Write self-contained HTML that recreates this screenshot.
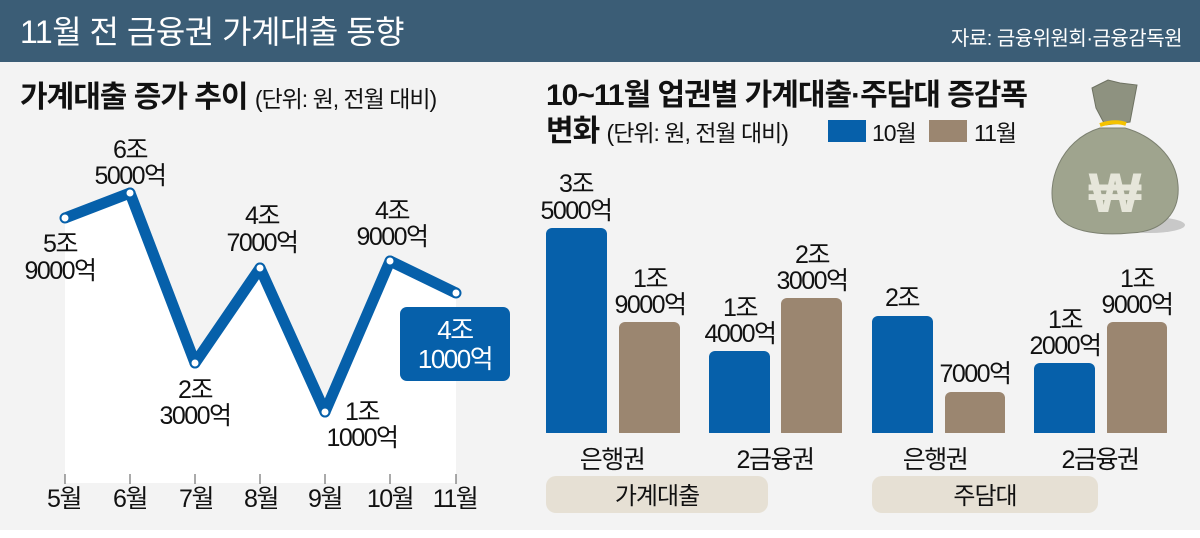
<!DOCTYPE html>
<html><head><meta charset="utf-8"><style>
body{margin:0;width:1200px;height:533px;overflow:hidden;background:#fff;font-family:"Liberation Sans","Noto Sans CJK KR",sans-serif}
svg text{font-family:"Liberation Sans","Noto Sans CJK KR",sans-serif}
</style></head><body>
<svg width="1200" height="533" viewBox="0 0 1200 533">
<rect x="0" y="0" width="1200" height="530" fill="#f3f3f3"/>
<rect x="0" y="0" width="1200" height="62" fill="#3b5d76"/>
<text x="20" y="43" font-size="32" fill="#fff" letter-spacing="-0.5">11월 전 금융권 가계대출 동향</text>
<text x="1182" y="45" font-size="20" fill="#fff" text-anchor="end" letter-spacing="-0.5">자료: 금융위원회·금융감독원</text>

<text x="20" y="107" font-size="30" font-weight="bold" fill="#111" letter-spacing="-1">가계대출 증가 추이 <tspan font-size="23" font-weight="normal">(단위: 원, 전월 대비)</tspan></text>

<polygon points="65,218 130,193 195,363 260,268 325,412 390,261 456,293 456,483 65,483" fill="#fff"/>
<g stroke="#555" stroke-width="1">
<line x1="65" y1="474" x2="65" y2="484"/><line x1="130" y1="474" x2="130" y2="484"/><line x1="195" y1="474" x2="195" y2="484"/><line x1="260" y1="474" x2="260" y2="484"/><line x1="325" y1="474" x2="325" y2="484"/><line x1="390" y1="474" x2="390" y2="484"/><line x1="456" y1="474" x2="456" y2="484"/>
</g>
<polyline points="65,218 130,193 195,363 260,268 325,412 390,261 456,293" fill="none" stroke="#0660aa" stroke-width="11" stroke-linejoin="round"/>
<g fill="#fff" stroke="#0660aa" stroke-width="2">
<circle cx="65" cy="218" r="4.5"/><circle cx="130" cy="193" r="4.5"/><circle cx="195" cy="363" r="4.5"/><circle cx="260" cy="268" r="4.5"/><circle cx="325" cy="412" r="4.5"/><circle cx="390" cy="261" r="4.5"/><circle cx="456" cy="293" r="4.5"/>
</g>
<g font-size="25" fill="#111" text-anchor="middle" letter-spacing="-1.5">
<text x="60" y="252">5조</text><text x="60" y="279">9000억</text>
<text x="130" y="158">6조</text><text x="130" y="184">5000억</text>
<text x="195" y="398">2조</text><text x="195" y="424">3000억</text>
<text x="262" y="224">4조</text><text x="262" y="251">7000억</text>
<text x="362" y="420">1조</text><text x="362" y="446">1000억</text>
<text x="392" y="219">4조</text><text x="392" y="245">9000억</text>
<text x="64" y="507">5월</text><text x="130" y="507">6월</text><text x="196" y="507">7월</text><text x="261" y="507">8월</text><text x="325" y="507">9월</text><text x="390" y="507">10월</text><text x="455" y="507">11월</text>
</g>
<rect x="400" y="307" width="110" height="74" rx="7" fill="#0660aa"/>
<text x="455" y="339" font-size="26" fill="#fff" text-anchor="middle" letter-spacing="-1.5">4조</text>
<text x="455" y="368" font-size="26" fill="#fff" text-anchor="middle" letter-spacing="-1.5">1000억</text>

<text x="546" y="105" font-size="30" font-weight="bold" fill="#111" letter-spacing="-1">10~11월 업권별 가계대출·주담대 증감폭</text>
<text x="546" y="141" font-size="30" font-weight="bold" fill="#111" letter-spacing="-1">변화 <tspan font-size="23" font-weight="normal">(단위: 원, 전월 대비)</tspan></text>
<rect x="828" y="120" width="38" height="22" fill="#0660aa"/>
<text x="872" y="141" font-size="23" fill="#111" letter-spacing="-1">10월</text>
<rect x="929" y="120" width="38" height="22" fill="#9b8670"/>
<text x="974" y="141" font-size="23" fill="#111" letter-spacing="-1">11월</text>

<g>
<ellipse cx="1150" cy="225" rx="35" ry="8" fill="#c8c8c8"/>
<path d="M1100,128 C1060,140 1045,185 1055,210 C1062,232 1100,236 1130,233 C1165,232 1180,210 1178,185 C1176,155 1150,135 1125,128 Z" fill="#9fa48e" stroke="#7c8070" stroke-width="1"/>
<path d="M1092,88 L1100,84 L1108,80 L1120,83 L1137,85 L1130,122 L1105,125 L1096,108 Z" fill="#8e9280" stroke="#6e7262" stroke-width="1"/>
<path d="M1100,125 Q1115,120 1126,124" stroke="#f5c200" stroke-width="4" fill="none"/>
<text x="1115" y="212" font-size="56" font-weight="bold" fill="#e6e6da" text-anchor="middle">₩</text>
</g>

<g fill="#0660aa">
<rect x="546" y="228" width="61" height="210" rx="6"/><rect x="709" y="351" width="61" height="87" rx="6"/>
<rect x="872" y="316" width="61" height="122" rx="6"/><rect x="1034" y="363" width="61" height="75" rx="6"/>
</g>
<g fill="#9b8670">
<rect x="619" y="322" width="61" height="116" rx="6"/><rect x="781" y="298" width="61" height="140" rx="6"/>
<rect x="945" y="392" width="60" height="46" rx="6"/><rect x="1107" y="322" width="60" height="116" rx="6"/>
</g>
<rect x="540" y="433" width="640" height="10" fill="#f3f3f3"/>
<g font-size="25" fill="#111" text-anchor="middle" letter-spacing="-1.5">
<text x="576" y="192">3조</text><text x="576" y="219">5000억</text>
<text x="650" y="287">1조</text><text x="650" y="313">9000억</text>
<text x="740" y="316">1조</text><text x="740" y="342">4000억</text>
<text x="812" y="263">2조</text><text x="812" y="289">3000억</text>
<text x="902" y="306">2조</text>
<text x="975" y="382">7000억</text>
<text x="1065" y="328">1조</text><text x="1065" y="354">2000억</text>
<text x="1137" y="287">1조</text><text x="1137" y="313">9000억</text>
<text x="612" y="468">은행권</text><text x="775" y="468">2금융권</text>
<text x="935" y="468">은행권</text><text x="1100" y="468">2금융권</text>
</g>
<rect x="546" y="476" width="222" height="37" rx="10" fill="#e6e0d4"/>
<rect x="872" y="476" width="226" height="37" rx="10" fill="#e6e0d4"/>
<text x="657" y="504" font-size="24" fill="#111" text-anchor="middle" letter-spacing="-1">가계대출</text>
<text x="985" y="504" font-size="24" fill="#111" text-anchor="middle" letter-spacing="-1">주담대</text>
</svg>
</body></html>
